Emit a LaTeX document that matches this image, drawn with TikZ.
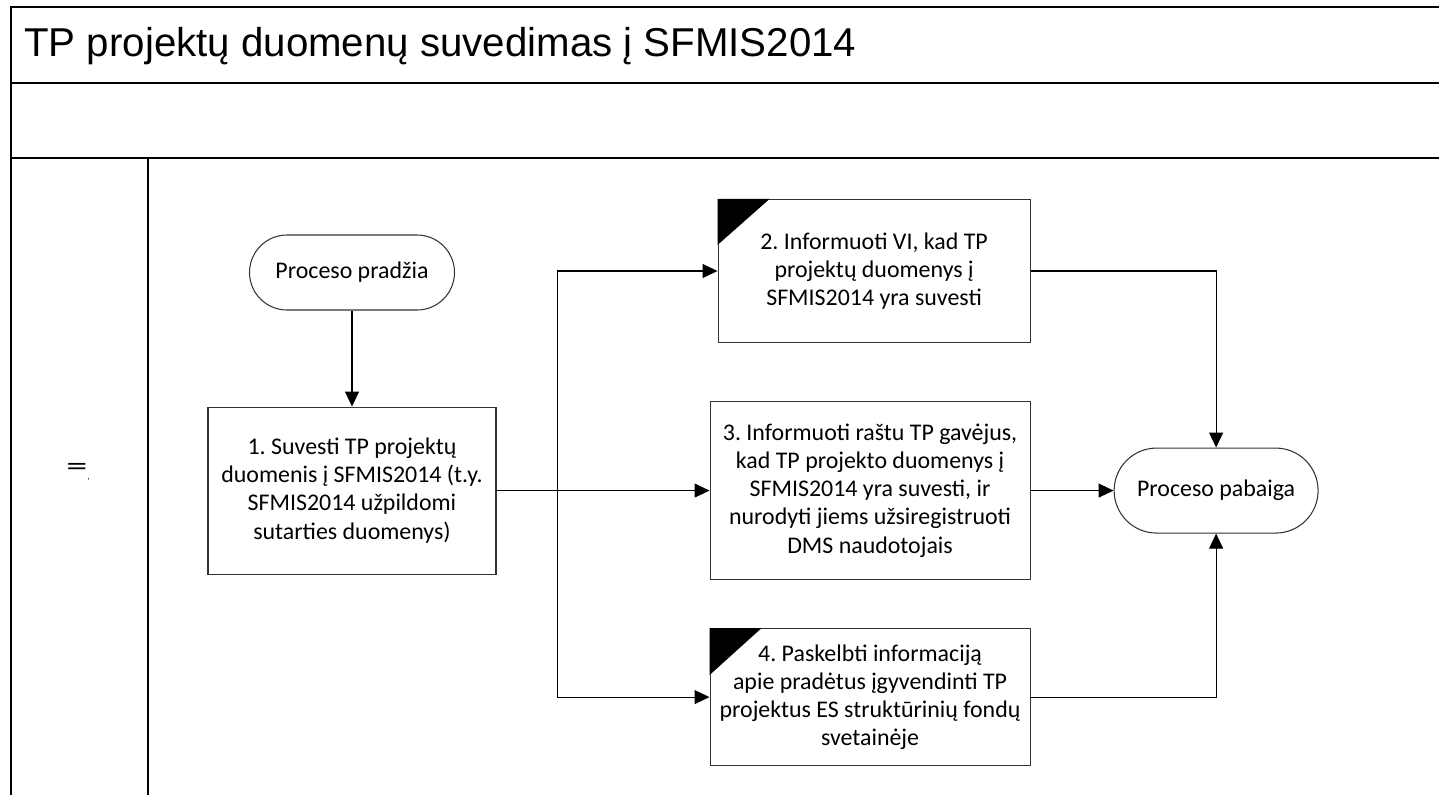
\documentclass[tikz,border=0pt]{standalone}
\usepackage{fontspec}
\setmainfont{Carlito}
\newfontfamily\titlefont{Liberation Sans}
\usetikzlibrary{arrows.meta, positioning}

\begin{document}
\frenchspacing
\begin{tikzpicture}[
    node distance=1cm and 1cm,
    stepbox/.style={rectangle, draw=black!80, line width=0.6pt, align=flush center, font=\fontsize{13.6}{16}\selectfont, inner sep=2pt},
    termbox/.style={stepbox, rounded corners=#1},
    arrow/.style={-{Triangle[length=0.3cm, width=0.28cm]}, line width=0.6pt},
    frame/.style={line width=1pt}
]

\useasboundingbox (0,0) rectangle (28.78,-15.9);

% swimlane frame
\draw[frame] (28.78,-0.14) -- (0.22,-0.14) -- (0.22,-15.9);
\draw[frame] (0.22,-1.66) -- (28.78,-1.66);
\draw[frame] (0.22,-3.16) -- (28.78,-3.16);
\draw[line width=0.6pt] (2.96,-3.16) -- (2.96,-15.9);

\node[anchor=west, font=\titlefont\fontsize{22.9}{26}\selectfont, inner sep=0pt] (title) at (0.48,-0.92) {TP projektų duomenų suvedimas į SFMIS2014};
\node[font=\fontsize{16}{18}\selectfont, inner sep=0pt] (lane) at (1.56,-9.45) {\scalebox{1.5}[1]{=}\raisebox{-0.3ex}{\tiny ,}};

% process steps
\node[termbox=0.75cm, minimum width=4.1cm, minimum height=1.5cm] (start) at (7.04,-5.45) {Proceso pradžia};
\node[stepbox, text width=5.5cm, minimum width=5.76cm, minimum height=3.34cm, below=1.92cm of start] (box1) {1. Suvesti TP projektų\\duomenis į SFMIS2014 (t.y.\\SFMIS2014 užpildomi\\sutarties duomenys)};
\node[stepbox, text width=6.2cm, minimum width=6.4cm, minimum height=3.56cm, right=4.26cm of box1] (box3) {3. Informuoti raštu TP gavėjus,\\kad TP projekto duomenys į\\SFMIS2014 yra suvesti, ir\\nurodyti jiems užsiregistruoti\\DMS naudotojais};
\node[stepbox, text width=6.0cm, minimum width=6.24cm, minimum height=2.86cm, above=1.16cm of box3.north east, anchor=south east] (box2) {2. Informuoti VI, kad TP\\projektų duomenys į\\SFMIS2014 yra suvesti};
\node[stepbox, text width=6.2cm, minimum width=6.4cm, minimum height=2.74cm, below=0.96cm of box3] (box4) {4. Paskelbti informaciją\\apie pradėtus įgyvendinti TP\\projektus ES struktūrinių fondų\\svetainėje};
\node[termbox=0.85cm, minimum width=4.08cm, minimum height=1.7cm, right=1.66cm of box3] (end) {Proceso pabaiga};

% corner marks
\fill (box2.north west) -- ++(1.04,0) -- ++(-1.04,-0.92) -- cycle;
\fill (box4.north west) -- ++(1.04,0) -- ++(-1.04,-0.94) -- cycle;

\coordinate[right=1.22cm of box1] (split);

\draw[arrow] (start) -- (box1);
\draw[arrow] (box1) -- (box3);
\draw[arrow] (split) |- (box2);
\draw[arrow] (split) |- (box4);
\draw[arrow] (box2) -| (end);
\draw[arrow] (box3) -- (end);
\draw[arrow] (box4) -| (end);

\end{tikzpicture}
\end{document}
